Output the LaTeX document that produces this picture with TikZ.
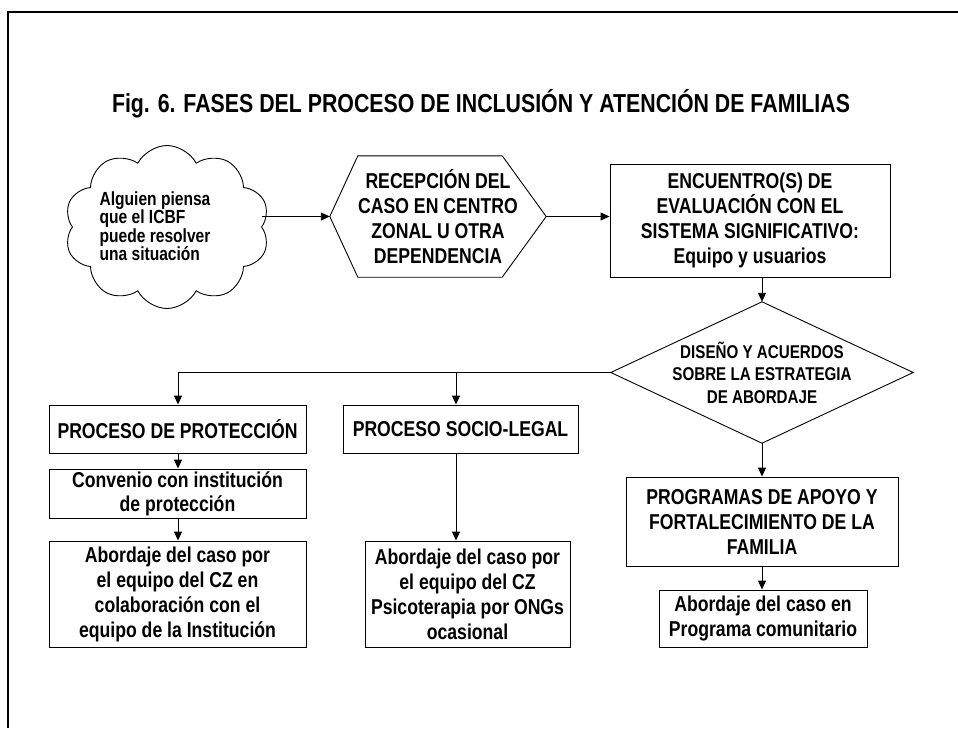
\documentclass[tikz,border=0pt]{standalone}
\usepackage{fontspec}
\setmainfont{Liberation Sans}[FakeStretch=0.82]
\usetikzlibrary{arrows.meta,shapes.symbols,calc}
\begin{document}
\begin{tikzpicture}[x=1pt,y=-1pt,
  ln/.style={line width=0.9pt},
  arr/.style={ln,-{Triangle[length=9pt,width=8pt]}},
  fs/.style={font=\bfseries\fontsize{21.5}{25}\selectfont},
  box/.style={draw,ln,fs,align=center,inner sep=0pt},
]
\useasboundingbox (0,0) rectangle (958,728);
\draw[line width=1.6pt] (8,728) -- (8,12) -- (958,12);

\node[font=\bfseries\fontsize{26}{30}\selectfont,anchor=base] (title) at (481,112)
  {Fig. 6. FASES DEL PROCESO DE INCLUSIÓN Y ATENCIÓN DE FAMILIAS};

% cloud
\node[cloud,draw,ln,cloud puffs=10,cloud puff arc=125,minimum width=205,minimum height=163,inner sep=0pt] (cloud) at (167,227) {};
\node[font=\bfseries\fontsize{19}{18.5}\selectfont,align=left] (cloudtxt) at (155,226)
  {Alguien piensa\\que el ICBF\\puede resolver\\una situación};

% hexagon
\node[fs,align=center,minimum width=216,minimum height=121,inner sep=0pt] (hex) at (438,216.5)
  {RECEPCIÓN DEL\\CASO EN CENTRO\\ZONAL U OTRA\\DEPENDENCIA};
\draw[ln] (hex.west) -- ($(hex.north west)+(28,0)$) -- ($(hex.north east)+(-44,0)$) -- (hex.east)
  -- ($(hex.south east)+(-44,0)$) -- ($(hex.south west)+(28,0)$) -- cycle;

% evaluation box
\node[box,minimum width=280,minimum height=113] (eval) at (750,220.5)
  {ENCUENTRO(S) DE\\EVALUACIÓN CON EL\\SISTEMA SIGNIFICATIVO:\\Equipo y usuarios};

% diamond
\node[font=\bfseries\fontsize{18.5}{22.5}\selectfont,align=center,minimum width=302,minimum height=141,inner sep=0pt] (dia) at (762,372.5)
  {DISEÑO Y ACUERDOS\\SOBRE LA ESTRATEGIA\\DE ABORDAJE};
\draw[ln] (dia.north) -- (dia.east) -- (dia.south) -- (dia.west) -- cycle;

% lower boxes
\node[box,minimum width=257,minimum height=48] (prot) at (177.5,429) {PROCESO DE PROTECCIÓN};
\node[box,minimum width=235,minimum height=48] (soc) at (460.5,429) {PROCESO SOCIO-LEGAL};
\node[box,minimum width=257,minimum height=49,font=\bfseries\fontsize{21.5}{24}\selectfont] (conv) at (177.5,493.5)
  {Convenio con institución\\de protección};
\node[box,minimum width=257,minimum height=106] (abl) at (177.5,594)
  {Abordaje del caso por\\el equipo del CZ en\\colaboración con el\\equipo de la Institución};
\node[box,minimum width=205,minimum height=106] (abm) at (467.5,594)
  {Abordaje del caso por\\el equipo del CZ\\Psicoterapia por ONGs\\ocasional};
\node[box,minimum width=272,minimum height=89] (prog) at (762,521.5)
  {PROGRAMAS DE APOYO Y\\FORTALECIMIENTO DE LA\\FAMILIA};
\node[box,minimum width=208,minimum height=57] (abr) at (763,618.5)
  {Abordaje del caso en\\Programa comunitario};

% connectors
\coordinate (b1) at (178,372.5);
\coordinate (b2) at (456,372.5);
\draw[arr] (cloud.east |- hex.west) -- (hex.west);
\draw[arr] (hex.east) -- (eval.west |- hex.east);
\draw[arr] (eval.south -| dia.north) -- (dia.north);
\draw[ln] (dia.west) -- (b1);
\draw[arr] (b1) -- (b1 |- prot.north);
\draw[arr] (b2) -- (b2 |- soc.north);
\draw[arr] (prot.south -| b1) -- (conv.north -| b1);
\draw[arr] (conv.south -| b1) -- (abl.north -| b1);
\draw[arr] (soc.south -| b2) -- (abm.north -| b2);
\draw[arr] (dia.south) -- (prog.north);
\draw[arr] (prog.south -| dia.south) -- (abr.north -| dia.south);
\end{tikzpicture}
\end{document}
